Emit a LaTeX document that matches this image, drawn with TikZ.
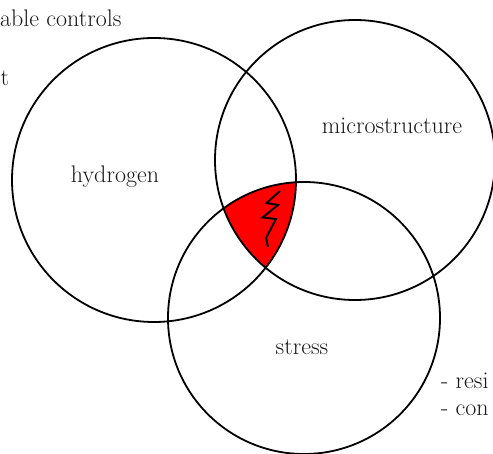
\documentclass[tikz,border=0pt]{standalone}
\begin{document}
\begin{tikzpicture}[x=1pt,y=-1pt,
  ring/.style={draw=black,line width=1.8pt},
  lbl/.style={font=\fontsize{24}{28}\selectfont,text=black!90,inner sep=0pt},
  bolt/.style={draw=black,line width=1.9pt,line join=miter}]
\useasboundingbox (0,0) rectangle (493,454);
\begin{scope}
  \clip (154,180) circle[radius=142];
  \clip (355,160) circle[radius=140];
  \fill[red] (304,318) circle[radius=136];
\end{scope}
\draw[ring] (154,180) circle[radius=142];
\draw[ring] (355,160) circle[radius=140];
\draw[ring] (304,318) circle[radius=136];
\draw[bolt] (280,191) -- (266.5,203) -- (278,205) -- (262.5,217.5) -- (276,219) -- (266,238) -- (268,247);
\node[lbl] (h) at (115,177) {hydrogen};
\node[lbl] (m) at (392,126) {microstructure};
\node[lbl] (s) at (302,347) {stress};
\node[lbl,anchor=base west] (t1) at (0,27) {able controls};
\node[lbl,anchor=base west] (t2) at (0.5,86) {t};
\node[lbl,anchor=base west] (t3) at (441,389) {- resi};
\node[lbl,anchor=base west] (t4) at (441,416) {- con};
\end{tikzpicture}
\end{document}
